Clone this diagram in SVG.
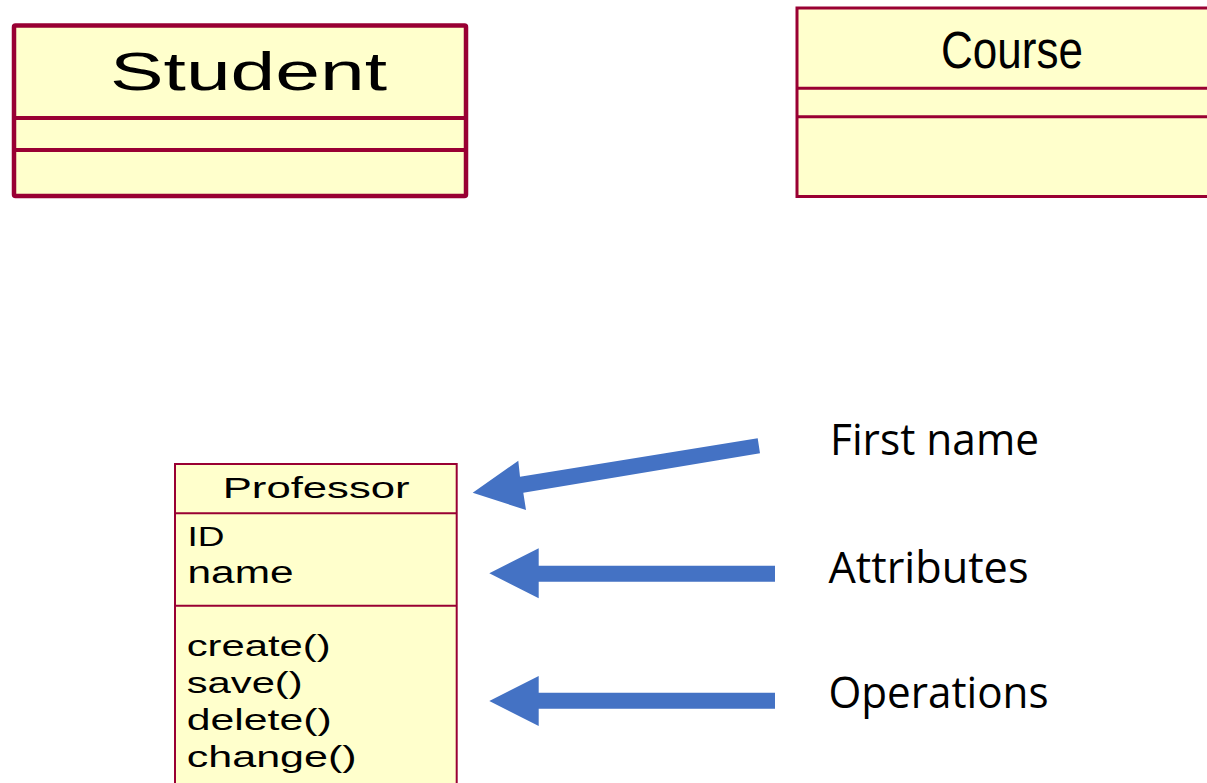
<svg xmlns="http://www.w3.org/2000/svg" width="1207" height="783" viewBox="0 0 1207 783">
  <style>
    .box { fill: #FFFFCC; stroke: #990033; }
    .uml { font-family: "Liberation Sans", Arial, sans-serif; fill: #000; }
    .note { font-family: "Open Sans", "Noto Sans", sans-serif; fill: #000; font-size: 44px; }
    .arrow { fill: #4472C4; }
  </style>

  <rect width="1207" height="783" fill="#FFFFFF"/>

  <!-- Student class -->
  <g id="student">
    <rect class="box" x="14" y="25.5" width="452" height="170.5" rx="1.5" stroke-width="4.5"/>
    <line x1="14" y1="118" x2="466" y2="118" stroke="#990033" stroke-width="4"/>
    <line x1="14" y1="150" x2="466" y2="150" stroke="#990033" stroke-width="4"/>
    <text class="uml" x="110" y="90" font-size="54" textLength="277" lengthAdjust="spacingAndGlyphs">Student</text>
  </g>

  <!-- Course class -->
  <g id="course">
    <rect class="box" x="797" y="8" width="420" height="188.5" stroke-width="3"/>
    <line x1="797" y1="88.3" x2="1207" y2="88.3" stroke="#990033" stroke-width="3"/>
    <line x1="797" y1="116.7" x2="1207" y2="116.7" stroke="#990033" stroke-width="3"/>
    <text class="uml" x="941" y="68.3" font-size="51" textLength="142" lengthAdjust="spacingAndGlyphs">Course</text>
  </g>

  <!-- Professor class -->
  <g id="professor">
    <rect class="box" x="175" y="464" width="281.7" height="340" stroke-width="2"/>
    <line x1="175" y1="513.3" x2="456.7" y2="513.3" stroke="#990033" stroke-width="2"/>
    <line x1="175" y1="605.7" x2="456.7" y2="605.7" stroke="#990033" stroke-width="2"/>
    <text class="uml" x="222.7" y="498.3" font-size="30" textLength="187" lengthAdjust="spacingAndGlyphs">Professor</text>
    <text class="uml" x="187.5" y="545.7" font-size="28" textLength="37" lengthAdjust="spacingAndGlyphs">ID</text>
    <text class="uml" x="187.5" y="583.3" font-size="31" textLength="106" lengthAdjust="spacingAndGlyphs">name</text>
    <text class="uml" x="186.7" y="655.7" font-size="30" textLength="144" lengthAdjust="spacingAndGlyphs">create()</text>
    <text class="uml" x="186.7" y="693.3" font-size="30" textLength="116" lengthAdjust="spacingAndGlyphs">save()</text>
    <text class="uml" x="186.7" y="730" font-size="30" textLength="145" lengthAdjust="spacingAndGlyphs">delete()</text>
    <text class="uml" x="186.7" y="766.7" font-size="30" textLength="170" lengthAdjust="spacingAndGlyphs">change()</text>
  </g>

  <!-- Callout arrows -->
  <g id="connectors">
    <polygon class="arrow" points="757.7,438.3 760,453.3 523.3,492.7 526,510 472.7,492.7 518.3,460.7 520,476.7"/>
    <polygon class="arrow" points="775,565.7 775,581.7 538.7,581.7 538.7,598.3 489.3,573.3 538.7,548.3 538.7,565.7"/>
    <polygon class="arrow" points="775,692.7 775,708.7 538.7,708.7 538.7,726 489.3,701 538.7,676 538.7,692.7"/>
  </g>

  <!-- Labels -->
  <g id="labels">
    <text class="note" x="830" y="455" textLength="209" lengthAdjust="spacingAndGlyphs">First name</text>
    <text class="note" x="828.5" y="582.7" textLength="200" lengthAdjust="spacingAndGlyphs">Attributes</text>
    <text class="note" x="828.5" y="708.3" textLength="220" lengthAdjust="spacingAndGlyphs">Operations</text>
  </g>
</svg>
